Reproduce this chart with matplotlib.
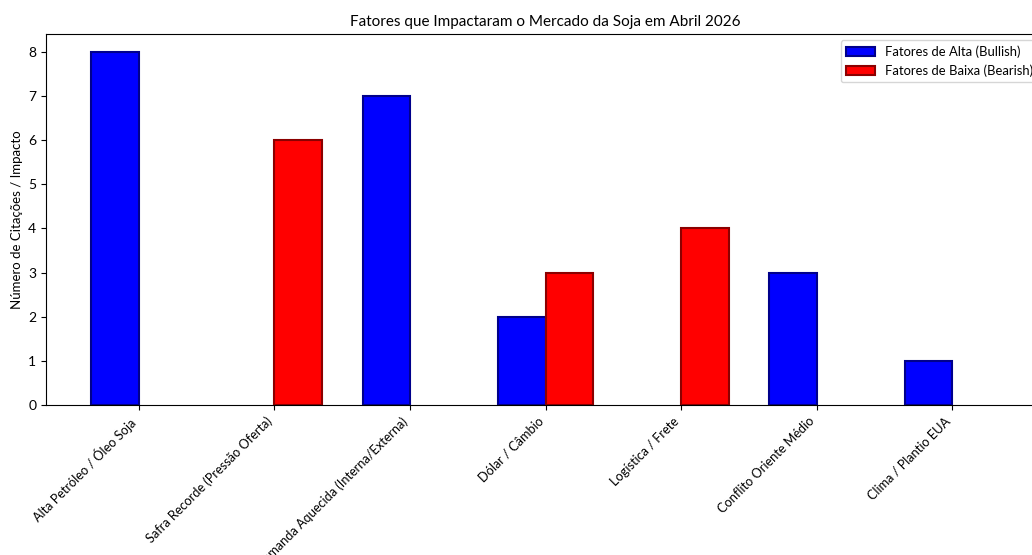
import numpy as np
import matplotlib
matplotlib.use("Agg")
import matplotlib.pyplot as plt

plt.rcParams['font.family'] = ['Lato', 'DejaVu Sans']

categorias = ["Alta Petróleo / Óleo Soja", "Safra Recorde (Pressão Oferta)",
              "Demanda Aquecida (Interna/Externa)", "Dólar / Câmbio",
              "Logística / Frete", "Conflito Oriente Médio", "Clima / Plantio EUA"]
alta = [8, 0, 7, 2, 0, 3, 1]
baixa = [0, 6, 0, 3, 4, 0, 0]

fig = plt.figure(figsize=(10.32, 5.55), dpi=100)
# axes runs a bit past the right edge, like the cropped original
ax = fig.add_axes([0.0446, 0.270, 0.968, 0.669])

x = np.arange(len(categorias))
w = 0.35
# zero-height bars are not drawn in the original
alta_v = np.where(np.array(alta) == 0, np.nan, alta)
baixa_v = np.where(np.array(baixa) == 0, np.nan, baixa)
ax.bar(x - w/2, alta_v, w, color='#0000ff', edgecolor='#00008b', linewidth=1.5,
       label='Fatores de Alta (Bullish)')
ax.bar(x + w/2, baixa_v, w, color='#ff0000', edgecolor='#8b0000', linewidth=1.5,
       label='Fatores de Baixa (Bearish)')
ax.set_xlim(-0.685, 6.685)
ax.set_ylim(0, 8.4)

ax.set_xticks(x)
ax.set_xticklabels(categorias, rotation=45, ha='right', fontsize=9.2)
ax.tick_params(axis='y', labelsize=10)
ax.set_ylabel('Número de Citações / Impacto', fontsize=9.5)
ax.set_title('Fatores que Impactaram o Mercado da Soja em Abril 2026', fontsize=11)
ax.legend(loc='upper right', fontsize=9.4, handlelength=2.2)

fig.savefig('out.png', dpi=100)
